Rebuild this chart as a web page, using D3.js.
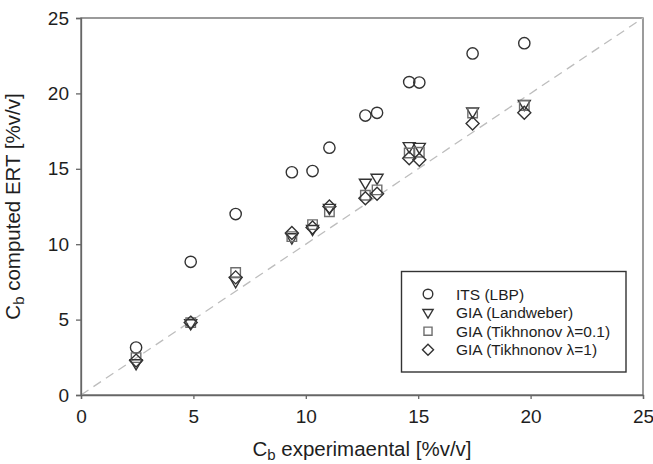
<!DOCTYPE html>
<html>
<head>
<meta charset="utf-8">
<script src="https://cdn.jsdelivr.net/npm/d3@7/dist/d3.min.js"></script>
<style>
  html, body { margin: 0; padding: 0; background: #fff; }
  svg { display: block; font-family: "Liberation Sans", Arial, sans-serif; }
</style>
</head>
<body>
<svg id="chart" width="653" height="464"></svg>
<script>
// Experimental concentration (x) for each sample
const cbExperimental = [2.45, 4.88, 6.88, 9.38, 10.3, 11.05, 12.65, 13.17, 14.6, 15.05, 17.42, 19.72];
// Computed ERT concentrations per inversion method
const itsLBP       = [3.15, 8.83, 12.0, 14.77, 14.85, 16.4, 18.53, 18.71, 20.75, 20.72, 22.65, 23.33];
const giaLandweber = [2.1, 4.75, 7.55, 10.45, 11.0, 12.4, 14.07, 14.4, 16.5, 16.45, 18.8, 19.3];
const giaTik01     = [2.48, 4.8, 8.12, 10.5, 11.3, 12.15, 13.25, 13.6, 16.05, 16.1, 18.7, 19.2];
const giaTik1      = [2.28, 4.8, 7.8, 10.75, 11.1, 12.5, 13.05, 13.35, 15.7, 15.6, 18.0, 18.72];

const seriesNames = ["ITS (LBP)", "GIA (Landweber)", "GIA (Tikhnonov \u03bb=0.1)", "GIA (Tikhnonov \u03bb=1)"];
const seriesValues = [itsLBP, giaLandweber, giaTik01, giaTik1];
const seriesShapes = ["circle", "triangleDown", "square", "diamond"];
const seriesStroke = ["#333", "#333", "#6e6e6e", "#333"];

const axisTicks = [0, 5, 10, 15, 20, 25];

const svg = d3.select("#chart");

const x = d3.scaleLinear().domain([0, 25]).range([81, 643]);
const y = d3.scaleLinear().domain([0, 25]).range([395, 18]);

const axisColor = "#666";
const textColor = "#1e1e1e";

// plot frame
svg.append("rect")
  .attr("x", x(0)).attr("y", y(25))
  .attr("width", x(25) - x(0)).attr("height", y(0) - y(25))
  .attr("fill", "none").attr("stroke", axisColor).attr("stroke-width", 1.3);

// 1:1 reference line
svg.append("line")
  .attr("x1", x(0)).attr("y1", y(0)).attr("x2", x(25)).attr("y2", y(25))
  .attr("stroke", "#bdbdbd").attr("stroke-width", 1.3)
  .attr("stroke-dasharray", "9,6");

// axes
const xAxis = svg.append("g")
  .attr("transform", `translate(0,${y(0)})`)
  .call(d3.axisBottom(x).tickValues(axisTicks).tickSize(4).tickPadding(11).tickFormat(d3.format("d")));
const yAxis = svg.append("g")
  .attr("transform", `translate(${x(0)},0)`)
  .call(d3.axisLeft(y).tickValues(axisTicks).tickSize(5).tickPadding(7).tickFormat(d3.format("d")));

[xAxis, yAxis].forEach(g => {
  g.select(".domain").attr("stroke", axisColor).attr("stroke-width", 1.3);
  g.selectAll(".tick line").attr("stroke", axisColor).attr("stroke-width", 1.3);
  g.selectAll(".tick text").attr("fill", textColor)
    .style("font-size", "19px").style("font-family", "'Liberation Sans', Arial, sans-serif");
});

// marker generators
function markerPath(shape, k) {
  if (shape === "circle") return d3.symbol().type(d3.symbolCircle).size(100 * k * k)();
  if (shape === "square") return d3.symbol().type(d3.symbolSquare).size(90 * k * k)();
  if (shape === "diamond") { const s = 6.5 * k; return `M0,${-s}L${s},0L0,${s}L${-s},0Z`; }
  const s = 6 * k;
  return `M${-s},${-s * 0.6}L${s},${-s * 0.6}L0,${s * 1.1}Z`;
}

seriesValues.forEach((vals, i) => {
  svg.append("g").selectAll("path")
    .data(vals.map((v, j) => [cbExperimental[j], v]))
    .join("path")
    .attr("transform", d => `translate(${x(d[0])},${y(d[1])})`)
    .attr("d", markerPath(seriesShapes[i], 1))
    .attr("fill", "none")
    .attr("stroke", seriesStroke[i])
    .attr("stroke-width", 1.4);
});

// legend
const lg = svg.append("g");
lg.append("rect")
  .attr("x", 401.5).attr("y", 271.5).attr("width", 224.5).attr("height", 100.5)
  .attr("fill", "#fff").attr("stroke", "#333").attr("stroke-width", 1.4);
seriesNames.forEach((name, i) => {
  const cy = 294 + i * 18.6;
  lg.append("path")
    .attr("transform", `translate(428,${cy})`)
    .attr("d", markerPath(seriesShapes[i], 0.85))
    .attr("fill", "none").attr("stroke", seriesStroke[i]).attr("stroke-width", 1.4);
  lg.append("text")
    .attr("x", 456).attr("y", cy + 5.5)
    .attr("fill", textColor)
    .style("font-size", "15.5px")
    .text(name);
});

// axis titles with subscript
const xt = svg.append("text")
  .attr("x", (x(0) + x(25)) / 2).attr("y", 456)
  .attr("text-anchor", "middle")
  .attr("fill", textColor).style("font-size", "20.5px");
xt.append("tspan").text("C");
xt.append("tspan").attr("dy", 4).style("font-size", "15px").text("b");
xt.append("tspan").attr("dy", -4).text(" experimaental [%v/v]");

const yt = svg.append("text")
  .attr("transform", `translate(19.5,${y(12.5)}) rotate(-90)`)
  .attr("text-anchor", "middle")
  .attr("fill", textColor).style("font-size", "20.5px");
yt.append("tspan").text("C");
yt.append("tspan").attr("dy", 4).style("font-size", "15px").text("b");
yt.append("tspan").attr("dy", -4).text(" computed ERT [%v/v]");
</script>
</body>
</html>
